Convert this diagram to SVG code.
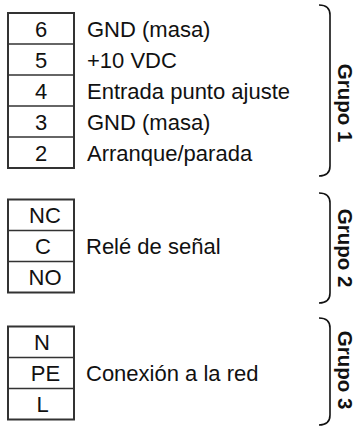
<svg xmlns="http://www.w3.org/2000/svg" width="357" height="427" viewBox="0 0 357 427">
<style>
.box{fill:#fff;stroke:#333;stroke-width:2}
.sep{stroke:#333;stroke-width:1.5}
.pin{font-family:"Liberation Sans",Arial,sans-serif;font-size:22px;fill:#111;text-anchor:middle}
.lbl{font-family:"Liberation Sans",Arial,sans-serif;font-size:22px;fill:#111}
.grp{font-family:"Liberation Sans",Arial,sans-serif;font-size:20.5px;font-weight:bold;fill:#111;text-anchor:middle}
.br{fill:none;stroke:#111;stroke-width:1.6}
</style>
<rect width="357" height="427" fill="#fff"/>
<g id="grupo1">
<rect class="box" x="8" y="13" width="66" height="155"/>
<line class="sep" x1="8" y1="44" x2="74" y2="44"/>
<line class="sep" x1="8" y1="75" x2="74" y2="75"/>
<line class="sep" x1="8" y1="106" x2="74" y2="106"/>
<line class="sep" x1="8" y1="137" x2="74" y2="137"/>
<text class="pin" x="41" y="36.5">6</text>
<text class="pin" x="41" y="67.5">5</text>
<text class="pin" x="41" y="98.5">4</text>
<text class="pin" x="41" y="129.5">3</text>
<text class="pin" x="41" y="160.5">2</text>
<text class="lbl" x="87" y="36.5">GND (masa)</text>
<text class="lbl" x="87" y="67.5">+10 VDC</text>
<text class="lbl" x="87" y="98.5">Entrada punto ajuste</text>
<text class="lbl" x="87" y="129.5">GND (masa)</text>
<text class="lbl" x="87" y="160.5">Arranque/parada</text>
<path class="br" d="M319,5 Q330,5 330,15 L330,166 Q330,176 319,176"/>
<text class="grp" transform="translate(338,103) rotate(90)">Grupo 1</text>
</g>
<g id="grupo2">
<rect class="box" x="8" y="199.5" width="66" height="93"/>
<line class="sep" x1="8" y1="230.5" x2="74" y2="230.5"/>
<line class="sep" x1="8" y1="261.5" x2="74" y2="261.5"/>
<text class="pin" x="45" y="223">NC</text>
<text class="pin" x="43" y="254">C</text>
<text class="pin" x="45" y="285">NO</text>
<text class="lbl" x="86" y="254">Relé de señal</text>
<path class="br" d="M319,193 Q330,193 330,203 L330,293 Q330,303 319,303"/>
<text class="grp" transform="translate(338,248) rotate(90)">Grupo 2</text>
</g>
<g id="grupo3">
<rect class="box" x="8" y="326.5" width="66" height="93"/>
<line class="sep" x1="8" y1="357.5" x2="74" y2="357.5"/>
<line class="sep" x1="8" y1="388.5" x2="74" y2="388.5"/>
<text class="pin" x="42" y="350">N</text>
<text class="pin" x="45.5" y="381">PE</text>
<text class="pin" x="42.5" y="412">L</text>
<text class="lbl" x="86" y="381">Conexión a la red</text>
<path class="br" d="M319,318 Q330,318 330,328 L330,415 Q330,425 319,425"/>
<text class="grp" transform="translate(338,370) rotate(90)">Grupo 3</text>
</g>
</svg>
